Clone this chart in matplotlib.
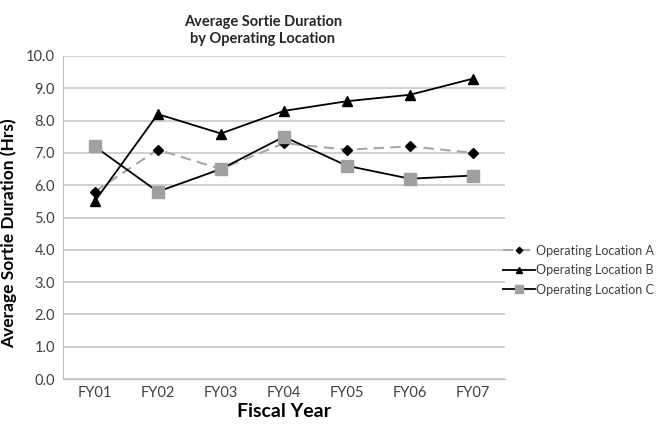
import matplotlib

matplotlib.use("Agg")
import matplotlib.pyplot as plt

plt.rcParams['font.family'] = ['Lato', 'DejaVu Sans']

# --- Data ---
years = ['FY01', 'FY02', 'FY03', 'FY04', 'FY05', 'FY06', 'FY07']
loc_a = [5.8, 7.1, 6.5, 7.3, 7.1, 7.2, 7.0]
loc_b = [5.5, 8.2, 7.6, 8.3, 8.6, 8.8, 9.3]
loc_c = [7.2, 5.8, 6.5, 7.5, 6.6, 6.2, 6.3]
y_ticks = [0, 1, 2, 3, 4, 5, 6, 7, 8, 9, 10]

fig = plt.figure(figsize=(6.65, 4.24), dpi=100)
ax = fig.add_axes([0.095, 0.106, 0.664, 0.762])

x = range(len(years))
ax.plot(x, loc_a, color='#a6a6a6', linestyle=(0, (5, 3)), linewidth=1.5,
        marker='D', markersize=5, markerfacecolor='black', markeredgecolor='black',
        label='Operating Location A')
ax.plot(x, loc_b, color='black', linewidth=1.3,
        marker='^', markersize=7, markerfacecolor='black', markeredgecolor='black',
        label='Operating Location B')
ax.plot(x, loc_c, color='black', linewidth=1.3,
        marker='s', markersize=9, markerfacecolor='#a0a0a0', markeredgecolor='#a0a0a0',
        label='Operating Location C')

ax.set_xlim(-0.5, len(years) - 0.5)
ax.set_ylim(0, 10)
ax.set_yticks(y_ticks)
ax.set_yticklabels([f'{v:.1f}' for v in y_ticks], fontsize=10.5, color='#404040')
ax.set_xticks(list(x))
ax.set_xticklabels(years, fontsize=10.5, color='#404040')
ax.tick_params(axis='y', length=0, pad=6)
ax.tick_params(axis='x', length=0, pad=5)
ax.grid(axis='y', color='#c8c8c8', linewidth=1.2)
ax.set_axisbelow(True)
for side in ['top', 'right']:
    ax.spines[side].set_visible(False)
ax.spines['left'].set_color('#bfbfbf')
ax.spines['bottom'].set_color('#bfbfbf')

ax.set_xlabel('Fiscal Year', fontsize=14, fontweight='bold', labelpad=2)
ax.set_ylabel('Average Sortie Duration (Hrs)', fontsize=12.5, fontweight='bold')
ax.yaxis.set_label_coords(-0.105, 0.45)
fig.text(0.395, 0.965, 'Average Sortie Duration\nby Operating Location', ha='center', va='top',
         fontsize=10.5, fontweight='bold', color='#262626', linespacing=1.25)

ax.legend(loc='center left', bbox_to_anchor=(0.74, 0.363), bbox_transform=fig.transFigure,
          frameon=False, fontsize=9, handlelength=2.5, handletextpad=0.1, labelspacing=0.6,
          labelcolor='#404040', markerscale=0.65)

fig.savefig('out.png', dpi=100)
